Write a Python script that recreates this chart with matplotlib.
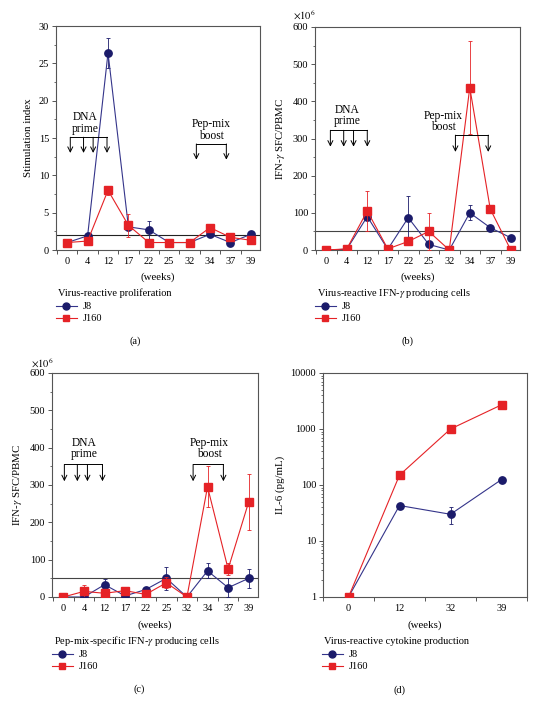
import numpy as np
import matplotlib
matplotlib.use('Agg')
import matplotlib.pyplot as plt
from matplotlib.ticker import FixedLocator, MultipleLocator, LogLocator, NullFormatter
from matplotlib.lines import Line2D

plt.rcParams['font.family'] = ['Liberation Serif', 'DejaVu Serif']
plt.rcParams['mathtext.fontset'] = 'stix'

# ---------------- data ----------------
weeks = ['0', '4', '12', '17', '22', '25', '32', '34', '37', '39']

# (a) stimulation index
a_j8 = [1.0, 1.9, 26.4, 3.1, 2.7, 1.0, 1.0, 2.1, 1.0, 2.1]
a_j8_err = [0, 0, 2.0, 0, 1.2, 0, 0, 0, 0, 0]
a_j160 = [1.0, 1.2, 8.0, 3.3, 1.0, 1.0, 1.0, 3.0, 1.7, 1.3]
a_j160_err = [0, 0, 0.6, 1.5, 0, 0, 0, 0, 0, 0]
a_cut = 2.0

# (b) virus-reactive IFN-gamma
b_j8 = [0, 2, 90, 2, 87, 15, 0, 100, 60, 33]
b_j8_err = [0, 0, 0, 0, 58, 0, 0, 20, 0, 0]
b_j160 = [0, 3, 105, 3, 23, 50, 0, 437, 110, 0]
b_j160_err = [0, 0, 55, 0, 0, 50, 0, 125, 0, 0]
b_cut = 52

# (c) pep-mix-specific IFN-gamma
c_j8 = [0, 0, 33, 3, 20, 50, 0, 70, 25, 50]
c_j8_err = [0, 0, 15, 0, 5, 30, 0, 20, 25, 25]
c_j160 = [0, 15, 10, 17, 7, 38, 0, 295, 75, 255]
c_j160_err = [0, 17, 0, 10, 0, 15, 0, 55, 15, 75]
c_cut = 50

# (d) IL-6
d_weeks = ['0', '12', '32', '39']
d_j8 = [1, 43, 30, 125]
d_j8_err = [0, 0, 10, 0]
d_j160 = [1, 150, 1000, 2700]

NAVY = '#1b1b6a'
NAVY_LINE = '#34348a'
RED = '#e52226'
SPINE = '#555555'
FS = 7.5

fig = plt.figure(figsize=(5.47, 7.05), dpi=100)
W, H = 547.0, 705.0


def add_ax(l, r, t, b):
    return fig.add_axes([l / W, 1 - b / H, (r - l) / W, (b - t) / H])


def style(ax, labels, xlim):
    n = len(labels)
    ax.set_xlim(*xlim)
    ax.set_xticks(range(n))
    ax.set_xticklabels(labels, fontsize=FS)
    ax.xaxis.set_minor_locator(FixedLocator(np.arange(-0.5, n, 1.0)))
    ax.tick_params(axis='x', which='major', length=0, pad=5)
    ax.tick_params(axis='x', which='minor', length=3, width=0.7, color=SPINE)
    ax.tick_params(axis='y', which='major', length=3, width=0.7, color=SPINE, labelsize=FS, pad=2)
    ax.tick_params(axis='y', which='minor', length=1.5, width=0.6, color=SPINE)
    for s in ax.spines.values():
        s.set_color(SPINE)
        s.set_linewidth(0.8)


def series(ax, y, err, color, lcolor, marker, ms, z):
    x = np.arange(len(y))
    ax.errorbar(x, y, yerr=err, color=lcolor, ecolor=color, elinewidth=0.6,
                capsize=1.6, capthick=0.6, lw=0.8, marker=marker, ms=ms,
                mfc=color, mec=color, zorder=z)


def bracket(ax, xs, ybar, ytip, text, tx, ty):
    ax.plot([xs[0], xs[-1]], [ybar, ybar], color='black', lw=0.7, zorder=6)
    for x in xs:
        ax.annotate('', xy=(x, ytip), xytext=(x, ybar),
                    arrowprops=dict(arrowstyle='->', lw=0.7, color='black',
                                    shrinkA=0, shrinkB=0, mutation_scale=9),
                    zorder=6)
    ax.text(tx, ty, text, ha='center', va='bottom', fontsize=8.3,
            linespacing=0.95, zorder=6)


def legend_block(x, y, title):
    fig.text(x / W, 1 - y / H, title, fontsize=7.5, va='center', ha='left')
    h1 = Line2D([], [], color=NAVY_LINE, lw=0.8, marker='o', ms=5, mfc=NAVY, mec=NAVY)
    h2 = Line2D([], [], color=RED, lw=0.8, marker='s', ms=5, mfc=RED, mec=RED)
    fig.legend([h1, h2], ['J8', 'J160'], loc='upper left',
               bbox_to_anchor=(x / W - 0.004, 1 - (y + 9) / H), frameon=False,
               fontsize=7.5, handlelength=2.0, handletextpad=0.6,
               borderpad=0, borderaxespad=0, labelspacing=0.25)


xl = (-0.55, 9.45)

# ---------------- (a) ----------------
ax = add_ax(56, 260, 26, 250)
series(ax, a_j8, a_j8_err, NAVY, NAVY_LINE, 'o', 5.3, 3)
series(ax, a_j160, a_j160_err, RED, RED, 's', 5.5, 4)
ax.axhline(a_cut, color='#222222', lw=0.8, zorder=2)
ax.set_ylim(0, 30)
ax.yaxis.set_major_locator(MultipleLocator(5))
ax.yaxis.set_minor_locator(MultipleLocator(2.5))
style(ax, weeks, xl)
ax.set_ylabel('Stimulation index', fontsize=7.8, labelpad=4)
bracket(ax, [0.15, 0.8, 1.27, 1.95], 15.1, 13.0, 'DNA\nprime', 0.9, 15.4)
bracket(ax, [6.33, 7.8], 14.2, 12.1, 'Pep-mix\nboost', 7.07, 14.5)
fig.text(158 / W, 1 - 277 / H, '(weeks)', fontsize=7.8, ha='center', va='center')
legend_block(58, 293, 'Virus-reactive proliferation')
fig.text(135 / W, 1 - 341 / H, '(a)', fontsize=7.5, ha='center', va='center')

# ---------------- (b) ----------------
ax = add_ax(315, 520, 27, 250)
series(ax, b_j8, b_j8_err, NAVY, NAVY_LINE, 'o', 5.3, 3)
series(ax, b_j160, b_j160_err, RED, RED, 's', 5.5, 4)
ax.axhline(b_cut, color='#444444', lw=0.8, zorder=2)
ax.set_ylim(0, 600)
ax.yaxis.set_major_locator(MultipleLocator(100))
ax.yaxis.set_minor_locator(MultipleLocator(50))
style(ax, weeks, xl)
ax.set_ylabel(r'IFN-$\gamma$ SFC/PBMC', fontsize=7.8, labelpad=4)
fig.text(293 / W, 1 - 15 / H, r'$\times 10^{6}$', fontsize=FS, ha='left', va='center')
bracket(ax, [0.2, 0.85, 1.33, 2.0], 322, 278, 'DNA\nprime', 1.02, 330)
bracket(ax, [6.3, 7.9], 309, 264, 'Pep-mix\nboost', 5.72, 314)
fig.text(418 / W, 1 - 277 / H, '(weeks)', fontsize=7.8, ha='center', va='center')
legend_block(317, 293, r'Virus-reactive IFN-$\gamma$ producing cells')
fig.text(407 / W, 1 - 341 / H, '(b)', fontsize=7.5, ha='center', va='center')

# ---------------- (c) ----------------
ax = add_ax(52, 258, 373, 597)
series(ax, c_j8, c_j8_err, NAVY, NAVY_LINE, 'o', 5.3, 3)
series(ax, c_j160, c_j160_err, RED, RED, 's', 5.5, 4)
ax.axhline(c_cut, color='#444444', lw=0.8, zorder=2)
ax.set_ylim(0, 600)
ax.yaxis.set_major_locator(MultipleLocator(100))
ax.yaxis.set_minor_locator(MultipleLocator(50))
style(ax, weeks, xl)
ax.set_ylabel(r'IFN-$\gamma$ SFC/PBMC', fontsize=7.8, labelpad=4)
fig.text(31 / W, 1 - 363 / H, r'$\times 10^{6}$', fontsize=FS, ha='left', va='center')
bracket(ax, [0.05, 0.68, 1.17, 1.9], 355, 310, 'DNA\nprime', 1.02, 366)
bracket(ax, [6.3, 7.77], 355, 310, 'Pep-mix\nboost', 7.1, 366)
fig.text(155 / W, 1 - 625 / H, '(weeks)', fontsize=7.8, ha='center', va='center')
legend_block(54, 641, r'Pep-mix-specific IFN-$\gamma$ producing cells')
fig.text(139 / W, 1 - 689 / H, '(c)', fontsize=7.5, ha='center', va='center')

# ---------------- (d) ----------------
ax = add_ax(323, 527, 373, 597)
series(ax, d_j8, d_j8_err, NAVY, NAVY_LINE, 'o', 5.3, 3)
series(ax, d_j160, [0] * 4, RED, RED, 's', 5.5, 4)
ax.set_yscale('log')
ax.set_ylim(1, 10000)
ax.set_yticks([1, 10, 100, 1000, 10000])
ax.set_yticklabels(['1', '10', '100', '1000', '10000'])
ax.yaxis.set_minor_locator(LogLocator(base=10, subs=np.arange(2, 10)))
ax.yaxis.set_minor_formatter(NullFormatter())
style(ax, d_weeks, (-0.5, 3.5))
ax.set_ylabel('IL-6 (pg/mL)', fontsize=7.8, labelpad=4)
fig.text(425 / W, 1 - 625 / H, '(weeks)', fontsize=7.8, ha='center', va='center')
legend_block(324, 641, 'Virus-reactive cytokine production')
fig.text(400 / W, 1 - 690 / H, '(d)', fontsize=7.5, ha='center', va='center')

fig.savefig('out.png', dpi=100)
